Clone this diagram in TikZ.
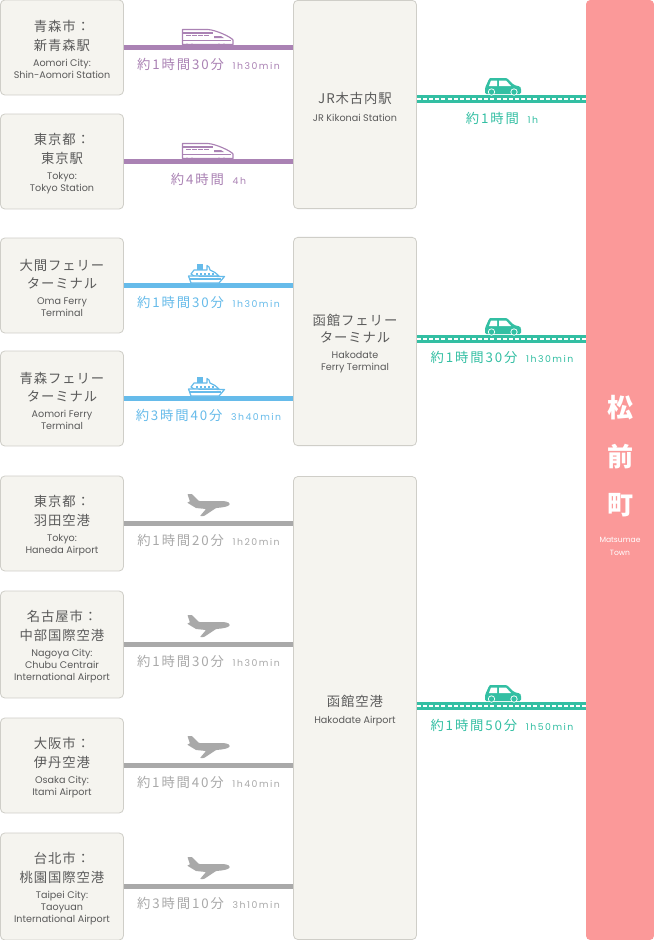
\documentclass[tikz,border=0pt]{standalone}
\usepackage{fontspec}
\setmainfont{Poppins}
\newfontfamily\jpfont{Noto Sans CJK JP}
\newfontfamily\jptrack[LetterSpace=7]{Noto Sans CJK JP}
\newfontfamily\jpwide[LetterSpace=14]{Noto Sans CJK JP}
\newfontfamily\lattrack[LetterSpace=16]{Poppins}
\newcommand{\jn}[1]{{\fontsize{10}{9}\jptrack #1}}
\newcommand{\jf}[1]{\rule{0pt}{12pt}\jn{#1}}
\newcommand{\dur}[2]{{\fontsize{10}{12}\jpwide #1}\hspace{6.5pt}{\fontsize{7}{9}\lattrack #2}}
\definecolor{boxfill}{HTML}{F5F4EF}
\definecolor{boxline}{HTML}{CFCEC8}
\definecolor{ink}{HTML}{5A5A5A}
\definecolor{cpurple}{HTML}{AA82B4}
\definecolor{cblue}{HTML}{66BBEA}
\definecolor{cgray}{HTML}{A9A9A9}
\definecolor{cgreen}{HTML}{33BFA3}
\definecolor{cpink}{HTML}{FB9999}
\tikzset{
  x=0.75pt,y=-0.75pt,
  placebox/.style={draw=boxline,line width=0.6pt,fill=boxfill,rounded corners=3.2pt,inner sep=0pt,
    align=center,text=ink,font=\fontsize{7.2}{9}\selectfont},
  srcbox/.style={placebox,minimum width=92.2pt},
  midbox/.style={placebox,minimum width=92.2pt},
  rail/.style={cpurple,line width=3.4pt},
  sea/.style={cblue,line width=3.4pt},
  air/.style={cgray,line width=3.4pt},
  road/.style={cgreen,line width=6.2pt},
  roaddash/.style={white,line width=0.8pt,dash pattern=on 3pt off 1.6pt},
  durlabel/.style={inner sep=0pt,text=#1},
  pics/trainicon/.style={code={
    \draw[cpurple,line width=0.85pt,fill=white,line join=round]
      (0.5,0.5) -- (26,0.5) .. controls (34,1) and (49,8) .. (51,11) -- (51,15.5) -- (0.5,15.5) -- cycle;
    \draw[cpurple,line width=0.85pt] (0.5,4) -- (31,4);
    \draw[cpurple,line width=0.85pt] (0.5,11.5) -- (49,11.5);
    \foreach \wx in {4,10,16,22}{\fill[cpurple] (\wx,6) rectangle ++(4.5,1.4);}
    \fill[cpurple] (32,7) -- (39,7) -- (42,9) -- (32,9) -- cycle;
    \foreach \wx in {5,10,37,42}{\fill[cpurple] (\wx,16) circle[radius=1.7];}
  }},
  pics/shipicon/.style={code={
    \fill[cblue] (9,0) rectangle (14.5,6);
    \draw[cblue,line width=0.9pt,fill=white,line join=round]
      (6,6) -- (19,6) -- (19,1.5) -- (21,3) -- (22,6) -- (27,8.5) -- (31,12) -- (6,12) -- (3,10) -- cycle;
    \draw[cblue,line width=0.9pt,fill=white,line join=round]
      (0.5,12) -- (36.5,12.5) -- (31,19) -- (3,19) -- cycle;
    \foreach \wx in {8,12,16,20,24}{\fill[cblue] (\wx,9) rectangle ++(1.8,1.8);}
    \draw[cblue,line width=0.9pt] (1.5,15) -- (33,15);
  }},
  pics/planeicon/.style={code={
    \fill[cgray,rounded corners=0.5pt]
      (0.5,0) -- (5,0) -- (12,7) -- (36,7) .. controls (41,7.5) and (43,9) .. (42.5,10.5)
      .. controls (41,12.5) and (36,13.5) .. (29,14) -- (17,22) -- (13,22) -- (19,15)
      -- (9,14) -- (0,8.5) -- (3,7.5) -- cycle;
  }},
  pics/caricon/.style={code={
    \fill[cgreen,rounded corners=1pt]
      (0,16) -- (0,10) -- (4,1) .. controls (5,0) and (6,0) .. (7,0) -- (22,0) -- (29,7) -- (35,8.5) -- (36,10) -- (36,16) -- cycle;
    \fill[white] (6,2.5) -- (12,2.5) -- (12,8) -- (4,8) -- cycle;
    \fill[white] (14,2.5) -- (21,2.5) -- (26,8) -- (14,8) -- cycle;
    \foreach \wx in {6.5,29}{
      \fill[white] (\wx,14) circle[radius=3.6];
      \fill[cgreen] (\wx,14) circle[radius=2.7];}
  }},
}
\begin{document}
\begin{tikzpicture}
\useasboundingbox (0,0) rectangle (654,940);
\fill[white] (0,0) rectangle (654,940);
% town
\node[draw=none,fill=cpink,rounded corners=3.2pt,minimum width=51pt,minimum height=705pt,inner sep=0pt] (town) at (620,470) {};
\foreach \nm/\ch/\yy in {t1/松/408,t2/前/457,t3/町/505}{
  \node[text=white,inner sep=0pt,font=\fontsize{19.5}{22}\jpfont\bfseries] (\nm) at (620,\yy) {\ch};}
\node[text=white,inner sep=0pt,align=center,font=\fontsize{5.7}{9.8}\selectfont] (tname) at (620,546) {Matsumae\\Town};
% source boxes
\node[srcbox,minimum height=71.2pt] (aomori) at (62,47.5) {\jf{青森市：}\\[4pt]\jn{新青森駅}\\[3pt]Aomori City:\\Shin-Aomori Station};
\node[srcbox,minimum height=71.2pt] (tokyo) at (62,161.5) {\jf{東京都：}\\[4pt]\jn{東京駅}\\[3pt]Tokyo:\\Tokyo Station};
\node[srcbox,minimum height=71.2pt] (oma) at (62,285.5) {\jf{大間フェリー}\\[4pt]\jn{ターミナル}\\[3pt]Oma Ferry\\Terminal};
\node[srcbox,minimum height=71.2pt] (aoferry) at (62,398.5) {\jf{青森フェリー}\\[4pt]\jn{ターミナル}\\[3pt]Aomori Ferry\\Terminal};
\node[srcbox,minimum height=71.2pt] (haneda) at (62,523.5) {\jf{東京都：}\\[4pt]\jn{羽田空港}\\[3pt]Tokyo:\\Haneda Airport};
\node[srcbox,minimum height=80.2pt] (chubu) at (62,644.5) {\jf{名古屋市：}\\[4pt]\jn{中部国際空港}\\[3pt]Nagoya City:\\Chubu Centrair\\International Airport};
\node[srcbox,minimum height=71.2pt] (itami) at (62,765.5) {\jf{大阪市：}\\[4pt]\jn{伊丹空港}\\[3pt]Osaka City:\\Itami Airport};
\node[srcbox,minimum height=80.2pt] (taoyuan) at (62,886.5) {\jf{台北市：}\\[4pt]\jn{桃園国際空港}\\[3pt]Taipei City:\\Taoyuan\\International Airport};
% hub boxes
\node[midbox,minimum height=156.2pt] (kikonai) at (355,104.5) {\jf{JR木古内駅}\\[4pt]JR Kikonai Station};
\node[midbox,minimum height=156.2pt] (hakoferry) at (355,341.5) {\jf{函館フェリー}\\[4pt]\jn{ターミナル}\\[3pt]Hakodate\\Ferry Terminal};
\node[midbox,minimum height=347.2pt] (hakoair) at (355,708) {\jf{函館空港}\\[4pt]Hakodate Airport};
% connectors
\draw[rail] (aomori.east) -- (aomori.east -| kikonai.west);
\draw[rail] (tokyo.east) -- (tokyo.east -| kikonai.west);
\draw[sea] (oma.east) -- (oma.east -| hakoferry.west);
\draw[sea] (aoferry.east) -- (aoferry.east -| hakoferry.west);
\draw[air] (haneda.east) -- (haneda.east -| hakoair.west);
\draw[air] (chubu.east) -- (chubu.east -| hakoair.west);
\draw[air] (itami.east) -- (itami.east -| hakoair.west);
\draw[air] (taoyuan.east) -- (taoyuan.east -| hakoair.west);
\coordinate (g1) at (kikonai.east |- 0,99);
\coordinate (g2) at (hakoferry.east |- 0,339);
\coordinate (g3) at (hakoair.east |- 0,706);
\foreach \g in {g1,g2,g3}{
  \draw[road] (\g) -- (\g -| town.west);
  \draw[roaddash] (\g) -- (\g -| town.west);}
% icons
\pic at (182,29) {trainicon};
\pic at (182,143) {trainicon};
\pic at (188,264) {shipicon};
\pic at (188,377) {shipicon};
\foreach \yy in {494,615,736,857}{\pic at (187,\yy) {planeicon};}
\foreach \yy in {78,318,685}{\pic at (485,\yy) {caricon};}
% labels
\node[durlabel=cpurple] (l1) at (208.5,64) {\dur{約1時間30分}{1h30min}};
\node[durlabel=cpurple] (l2) at (208.5,179) {\dur{約4時間}{4h}};
\node[durlabel=cblue] (l3) at (208.5,302) {\dur{約1時間30分}{1h30min}};
\node[durlabel=cblue] (l4) at (208.5,415) {\dur{約3時間40分}{3h40min}};
\node[durlabel=cgray] (l5) at (208.5,540) {\dur{約1時間20分}{1h20min}};
\node[durlabel=cgray] (l6) at (208.5,661) {\dur{約1時間30分}{1h30min}};
\node[durlabel=cgray] (l7) at (208.5,782) {\dur{約1時間40分}{1h40min}};
\node[durlabel=cgray] (l8) at (208.5,903) {\dur{約3時間10分}{3h10min}};
\node[durlabel=cgreen] (l9) at (502,118) {\dur{約1時間}{1h}};
\node[durlabel=cgreen] (l10) at (502,357) {\dur{約1時間30分}{1h30min}};
\node[durlabel=cgreen] (l11) at (502,725) {\dur{約1時間50分}{1h50min}};
\end{tikzpicture}
\end{document}
